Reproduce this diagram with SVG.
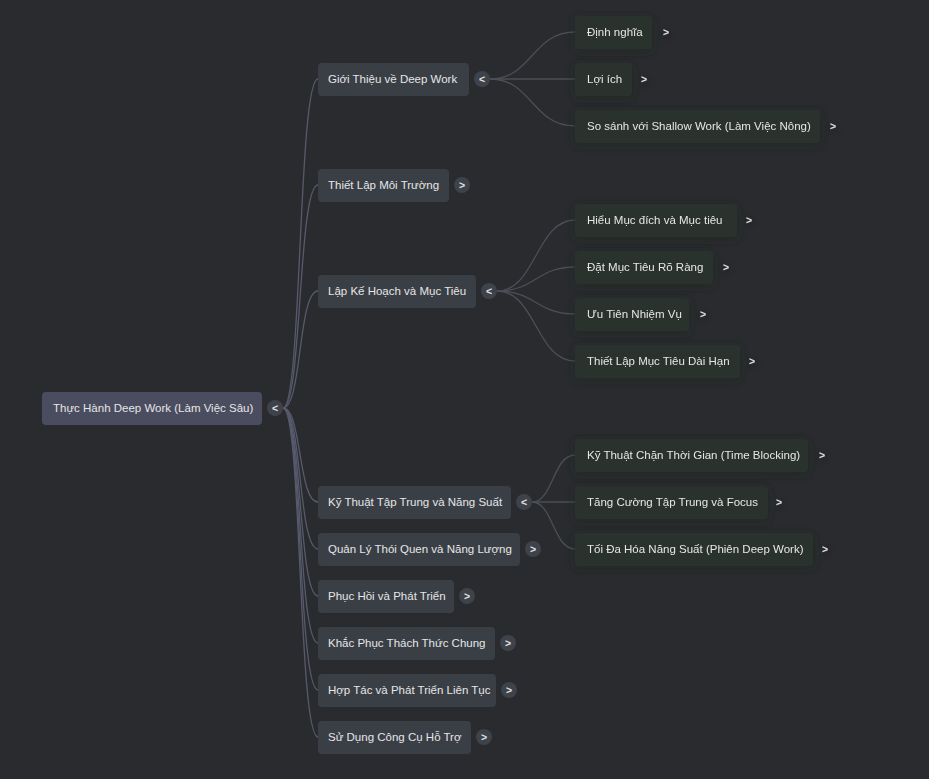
<svg xmlns="http://www.w3.org/2000/svg" width="929" height="779" viewBox="0 0 929 779">
<style>
text{font-family:"Liberation Sans",Arial,sans-serif;font-size:11.5px;fill:#e6e6e6}
.root{fill:#4a4c5f}
.l1{fill:#3a3f46}
.l2{fill:#2a322e}
.tg{fill:#3e424a}
.tt{font-size:10.5px;font-weight:bold;text-anchor:middle;fill:#e0e0e0}
.c0{fill:none;stroke:#575a6c;stroke-width:1.3}
.c1{fill:none;stroke:#4c4f55;stroke-width:1.3}
</style>
<defs>
<filter id="glow" x="-20%" y="-50%" width="140%" height="200%">
<feDropShadow dx="0" dy="2" stdDeviation="4" flood-color="#1e2823" flood-opacity="0.9"/>
</filter>
</defs>
<rect width="929" height="779" fill="#2a2b2e"/>
<g id="connectors">
<path class="c0" d="M283 408 C302 408 298 79 318 79"/>
<path class="c0" d="M283 408 C302 408 298 185 318 185"/>
<path class="c0" d="M283 408 C302 408 298 291 318 291"/>
<path class="c0" d="M283 408 C302 408 298 502 318 502"/>
<path class="c0" d="M283 408 C302 408 298 549 318 549"/>
<path class="c0" d="M283 408 C302 408 298 596 318 596"/>
<path class="c0" d="M283 408 C302 408 298 643 318 643"/>
<path class="c0" d="M283 408 C302 408 298 690 318 690"/>
<path class="c0" d="M283 408 C302 408 298 737 318 737"/>
<path class="c1" d="M490 79 C532 79 532 32 575 32"/>
<path class="c1" d="M490 79 C532 79 532 79 575 79"/>
<path class="c1" d="M490 79 C532 79 532 126 575 126"/>
<path class="c1" d="M497 291 C536 291 536 220 575 220"/>
<path class="c1" d="M497 291 C536 291 536 267 575 267"/>
<path class="c1" d="M497 291 C536 291 536 314 575 314"/>
<path class="c1" d="M497 291 C536 291 536 361 575 361"/>
<path class="c1" d="M532 502 C553 502 553 455 575 455"/>
<path class="c1" d="M532 502 C553 502 553 502 575 502"/>
<path class="c1" d="M532 502 C553 502 553 549 575 549"/>
</g>
<g id="root">
<rect class="root" x="42" y="392" width="220" height="33" rx="4"/>
<text x="53" y="412">Thực Hành Deep Work (Làm Việc Sâu)</text>
<circle class="tg" cx="275" cy="408" r="8"/><text class="tt" x="275" y="412">&lt;</text>
</g>
<g id="n-gioi-thieu">
<rect class="l1" x="318" y="63" width="151" height="33" rx="4"/>
<text x="328" y="83">Giới Thiệu về Deep Work</text>
<circle class="tg" cx="482" cy="79" r="8"/><text class="tt" x="482" y="83">&lt;</text>
</g>
<g id="n-moi-truong">
<rect class="l1" x="318" y="169" width="131" height="33" rx="4"/>
<text x="328" y="189">Thiết Lập Môi Trường</text>
<circle class="tg" cx="462" cy="185" r="8"/><text class="tt" x="462" y="189">&gt;</text>
</g>
<g id="n-ke-hoach">
<rect class="l1" x="318" y="275" width="158" height="33" rx="4"/>
<text x="328" y="295">Lập Kế Hoạch và Mục Tiêu</text>
<circle class="tg" cx="489" cy="291" r="8"/><text class="tt" x="489" y="295">&lt;</text>
</g>
<g id="n-ky-thuat">
<rect class="l1" x="318" y="486" width="193" height="33" rx="4"/>
<text x="328" y="506">Kỹ Thuật Tập Trung và Năng Suất</text>
<circle class="tg" cx="524" cy="502" r="8"/><text class="tt" x="524" y="506">&lt;</text>
</g>
<g id="n-quan-ly">
<rect class="l1" x="318" y="533" width="202" height="33" rx="4"/>
<text x="328" y="553">Quản Lý Thói Quen và Năng Lượng</text>
<circle class="tg" cx="533" cy="549" r="8"/><text class="tt" x="533" y="553">&gt;</text>
</g>
<g id="n-phuc-hoi">
<rect class="l1" x="318" y="580" width="136" height="33" rx="4"/>
<text x="328" y="600">Phục Hồi và Phát Triển</text>
<circle class="tg" cx="467" cy="596" r="8"/><text class="tt" x="467" y="600">&gt;</text>
</g>
<g id="n-khac-phuc">
<rect class="l1" x="318" y="627" width="177" height="33" rx="4"/>
<text x="328" y="647">Khắc Phục Thách Thức Chung</text>
<circle class="tg" cx="508" cy="643" r="8"/><text class="tt" x="508" y="647">&gt;</text>
</g>
<g id="n-hop-tac">
<rect class="l1" x="318" y="674" width="178" height="33" rx="4"/>
<text x="328" y="694">Hợp Tác và Phát Triển Liên Tục</text>
<circle class="tg" cx="509" cy="690" r="8"/><text class="tt" x="509" y="694">&gt;</text>
</g>
<g id="n-cong-cu">
<rect class="l1" x="318" y="721" width="153" height="33" rx="4"/>
<text x="328" y="741">Sử Dụng Công Cụ Hỗ Trợ</text>
<circle class="tg" cx="484" cy="737" r="8"/><text class="tt" x="484" y="741">&gt;</text>
</g>
<g id="n-dinh-nghia" filter="url(#glow)">
<rect class="l2" x="575" y="16" width="77" height="33" rx="4"/>
<text x="587" y="36">Định nghĩa</text>
<text class="tt" x="666" y="36">&gt;</text>
</g>
<g id="n-loi-ich" filter="url(#glow)">
<rect class="l2" x="575" y="63" width="57" height="33" rx="4"/>
<text x="587" y="83">Lợi ích</text>
<text class="tt" x="644" y="83">&gt;</text>
</g>
<g id="n-so-sanh" filter="url(#glow)">
<rect class="l2" x="575" y="110" width="245" height="33" rx="4"/>
<text x="587" y="130">So sánh với Shallow Work (Làm Việc Nông)</text>
<text class="tt" x="833" y="130">&gt;</text>
</g>
<g id="n-hieu-muc-dich" filter="url(#glow)">
<rect class="l2" x="575" y="204" width="162" height="33" rx="4"/>
<text x="587" y="224">Hiểu Mục đích và Mục tiêu</text>
<text class="tt" x="749" y="224">&gt;</text>
</g>
<g id="n-dat-muc-tieu" filter="url(#glow)">
<rect class="l2" x="575" y="251" width="138" height="33" rx="4"/>
<text x="587" y="271">Đặt Mục Tiêu Rõ Ràng</text>
<text class="tt" x="726" y="271">&gt;</text>
</g>
<g id="n-uu-tien" filter="url(#glow)">
<rect class="l2" x="575" y="298" width="114" height="33" rx="4"/>
<text x="587" y="318">Ưu Tiên Nhiệm Vụ</text>
<text class="tt" x="703" y="318">&gt;</text>
</g>
<g id="n-dai-han" filter="url(#glow)">
<rect class="l2" x="575" y="345" width="165" height="33" rx="4"/>
<text x="587" y="365">Thiết Lập Mục Tiêu Dài Hạn</text>
<text class="tt" x="752" y="365">&gt;</text>
</g>
<g id="n-chan-thoi-gian" filter="url(#glow)">
<rect class="l2" x="575" y="439" width="233" height="33" rx="4"/>
<text x="587" y="459">Kỹ Thuật Chặn Thời Gian (Time Blocking)</text>
<text class="tt" x="822" y="459">&gt;</text>
</g>
<g id="n-tang-cuong" filter="url(#glow)">
<rect class="l2" x="575" y="486" width="193" height="33" rx="4"/>
<text x="587" y="506">Tăng Cường Tập Trung và Focus</text>
<text class="tt" x="779" y="506">&gt;</text>
</g>
<g id="n-toi-da-hoa" filter="url(#glow)">
<rect class="l2" x="575" y="533" width="238" height="33" rx="4"/>
<text x="587" y="553">Tối Đa Hóa Năng Suất (Phiên Deep Work)</text>
<text class="tt" x="825" y="553">&gt;</text>
</g>
</svg>
